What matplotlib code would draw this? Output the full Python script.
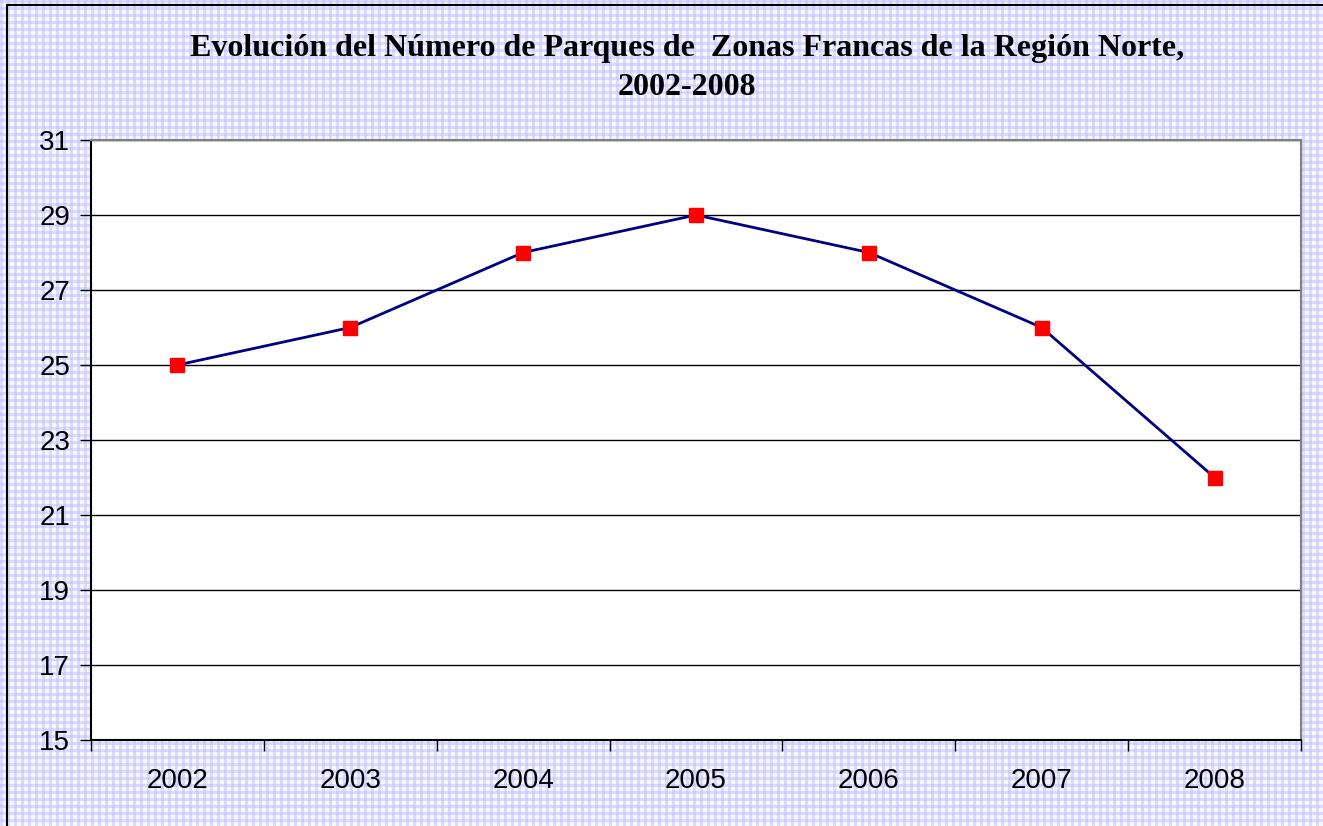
import matplotlib
matplotlib.use("Agg")
import matplotlib.pyplot as plt
import numpy as np

years = ["2002", "2003", "2004", "2005", "2006", "2007", "2008"]
parques = [25, 26, 28, 29, 28, 26, 22]
yticks = [15, 17, 19, 21, 23, 25, 27, 29, 31]
title = "Evolución del Número de Parques de  Zonas Francas de la Región Norte,\n2002-2008"

W, H = 1323, 826
fig = plt.figure(figsize=(W / 100, H / 100), dpi=100)

# checkered background
yy, xx = np.mgrid[0:H, 0:W]
bx = (xx % 7) < 3
by = (yy % 7) < 3
img = np.full((H, W, 3), 0.97)
img[..., 2] = 1.0
img[bx ^ by] = [0.86, 0.86, 1.0]
img[bx & by] = [0.80, 0.80, 1.0]
fig.figimage(img, 0, 0, zorder=-5)

# figure border
fig.add_artist(plt.Line2D([7 / W, 7 / W], [0, 1 - 5 / H], transform=fig.transFigure, color="black", lw=1.5))
fig.add_artist(plt.Line2D([7 / W, 1], [1 - 5 / H, 1 - 5 / H], transform=fig.transFigure, color="black", lw=1.5))

ax = fig.add_axes([91 / W, 1 - 740 / H, (1301 - 91) / W, (740 - 140) / H])
ax.set_zorder(2)
ax.set_facecolor("white")
x = np.arange(len(years))
ax.plot(x, parques, color="#000080", lw=2, marker="s", markersize=10.5,
        markerfacecolor="#ff0000", markeredgecolor="#ff0000", zorder=3, clip_on=False)
ax.set_xlim(-0.5, len(years) - 0.5)
ax.set_ylim(15, 31)
ax.set_yticks(yticks)
ax.set_yticklabels([str(v) for v in yticks], fontsize=20, family="Liberation Sans")
ax.yaxis.grid(True, color="black", lw=1)
ax.set_axisbelow(True)
ax.set_xticks(x)
ax.set_xticklabels(years, fontsize=20, family="Liberation Sans")
ax.tick_params(axis="x", length=0, pad=20)
ax.set_xticks(np.arange(-0.5, len(years)), minor=True)
ax.tick_params(axis="x", which="minor", length=8, width=1, color="black")
ax.tick_params(axis="y", length=8, width=1, color="black", pad=7)
for s in ["top", "right"]:
    ax.spines[s].set_color("#808080")
    ax.spines[s].set_linewidth(1.5)
for s in ["left", "bottom"]:
    ax.spines[s].set_color("black")
    ax.spines[s].set_linewidth(1.5)

fig.text(687 / W, 1 - 68 / H, title, ha="center", va="center", fontsize=23,
         fontweight="bold", family="Liberation Serif", linespacing=1.45, zorder=3)

fig.savefig("out.png", dpi=100)
